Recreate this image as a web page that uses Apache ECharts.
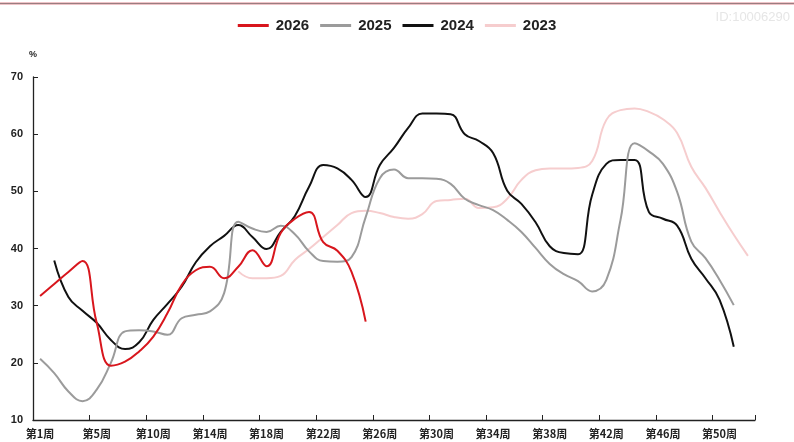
<!DOCTYPE html>
<html>
<head>
<meta charset="utf-8">
<script src="https://cdn.jsdelivr.net/npm/echarts@6/dist/echarts.min.js"></script>
<style>
html,body{margin:0;padding:0;background:#fff;}
#c{width:794px;height:442px;}
</style>
</head>
<body>
<div id="c"></div>
<script>
const categories = ['第1周','第2周','第3周','第4周','第5周','第6周','第7周','第8周',
  '第10周','第11周','第12周','第13周','第14周','第15周','第16周','第17周','第18周','第19周',
  '第20周','第21周','第22周','第23周','第24周','第25周','第26周','第27周','第28周','第29周',
  '第30周','第31周','第32周','第33周','第34周','第35周','第36周','第37周','第38周','第39周',
  '第40周','第41周','第42周','第43周','第44周','第45周','第46周','第47周','第48周','第49周',
  '第50周','第51周','第52周'];

const seriesNames = ['2026','2025','2024','2023'];

const s2026 = [31.7, 33.8, 35.9, 37.8, 27.0, 19.5, 20.2, 22.0, 24.6, 28.7,
  33.6, 36.2, 36.8, 34.8, 36.8, 39.7, 36.9, 42.7, 45.2, 46.4,
  41.1, 39.6, 35.9, 27.2];

const s2025 = [20.7, 18.2, 15.0, 13.3, 15.3, 20.0, 25.5, 25.7, 25.5, 24.9,
  27.8, 28.4, 29.0, 32.2, 44.7, 43.5, 42.9, 44.0, 42.5, 39.5,
  37.8, 37.7, 38.5, 45.5, 52.3, 53.8, 52.3, 52.3, 52.2, 51.3,
  48.7, 47.6, 46.7, 45.0, 42.9, 40.1, 37.3, 35.5, 34.3, 32.5,
  34.5, 45.0, 58.4, 57.0, 54.8, 49.9, 41.2, 38.3, 34.5, 30.1];

const s2024 = [null, 37.9, 31.5, 29.1, 27.0, 24.0, 22.4, 23.6, 27.5, 30.3,
  33.3, 37.6, 40.4, 42.2, 44.1, 42.0, 39.9, 42.9, 45.7, 50.8,
  54.6, 54.0, 52.0, 49.0, 54.6, 57.6, 61.1, 63.6, 63.6, 63.5,
  60.0, 58.8, 56.7, 50.1, 47.8, 44.6, 40.4, 39.2, 39.0, 49.4,
  54.8, 55.5, 55.5, 46.4, 45.2, 44.0, 38.2, 34.8, 31.0, 22.8];

const s2023 = [null, null, null, null, null, null, null, null, null, null,
  null, null, null, null, 36.0, 34.8, 34.8, 35.2, 38.0, 39.9,
  42.0, 44.1, 46.2, 46.6, 46.2, 45.5, 45.2, 46.0, 48.3, 48.5,
  48.7, 47.1, 47.2, 48.7, 52.0, 53.7, 54.0, 54.0, 54.1, 55.3,
  62.5, 64.2, 64.5, 63.9, 62.6, 60.2, 54.3, 50.6, 46.4, 42.4, 38.7];

const yTicks = {min: 10, max: 70, interval: 10};

const colors = {'2026': '#d8161d', '2025': '#9b9b9b', '2024': '#111111', '2023': '#f6cdce'};
const dataMap = {'2026': s2026, '2025': s2025, '2024': s2024, '2023': s2023};

const chart = echarts.init(document.getElementById('c'), null, {renderer: 'canvas'});

const drawOrder = ['2023', '2024', '2025', '2026'];
const series = drawOrder.map(n => ({
  name: n,
  type: 'line',
  data: dataMap[n],
  smooth: 0.45,
  symbol: 'none',
  connectNulls: false,
  lineStyle: {color: colors[n], width: 2},
  itemStyle: {color: colors[n]},
  emphasis: {disabled: true}
}));

chart.setOption({
  animation: false,
  backgroundColor: '#ffffff',
  graphic: [
    {type: 'rect', left: 0, top: 2, shape: {width: 794, height: 3}, style: {fill: '#efc3c7'}, silent: true},
    {type: 'rect', left: 0, top: 3, shape: {width: 794, height: 1}, style: {fill: '#9a7d80'}, silent: true},
    {type: 'text', right: 4, top: 11, style: {text: 'ID:10006290', fill: '#e6e6e6', font: '13px "Liberation Sans", Arial, sans-serif'}, silent: true}
  ],
  legend: {
    data: seriesNames,
    top: 13,
    left: 'center',
    icon: 'rect',
    itemWidth: 31,
    itemHeight: 3,
    itemGap: 11,
    textStyle: {color: '#222', fontSize: 15, fontWeight: 'bold', fontFamily: '"Liberation Sans", Arial, sans-serif', padding: [0, 0, 0, 2]}
  },
  grid: {left: 33, right: 39, top: 77, bottom: 22, containLabel: false},
  xAxis: {
    type: 'category',
    data: categories,
    boundaryGap: true,
    axisLine: {lineStyle: {color: '#222', width: 1.3}},
    axisTick: {show: true, inside: true, length: 5, interval: 3, lineStyle: {color: '#222'}},
    axisLabel: {interval: 3, color: '#222', fontSize: 11, fontWeight: 'bold', margin: 8,
      fontFamily: '"Noto Sans CJK SC", sans-serif'},
    splitLine: {show: false}
  },
  yAxis: {
    type: 'value',
    min: yTicks.min, max: yTicks.max, interval: yTicks.interval,
    name: '%',
    nameLocation: 'end',
    nameGap: 18,
    nameTextStyle: {color: '#222', fontSize: 9, fontWeight: 'bold', align: 'center', fontFamily: '"Liberation Sans", Arial, sans-serif'},
    axisLine: {show: true, lineStyle: {color: '#222', width: 1.3}},
    axisTick: {show: true, inside: true, length: 5, lineStyle: {color: '#222'}},
    axisLabel: {color: '#222', fontSize: 11, fontWeight: 'bold', margin: 10, fontFamily: '"Liberation Sans", Arial, sans-serif'},
    splitLine: {show: false}
  },
  series: series
});
</script>
</body>
</html>
